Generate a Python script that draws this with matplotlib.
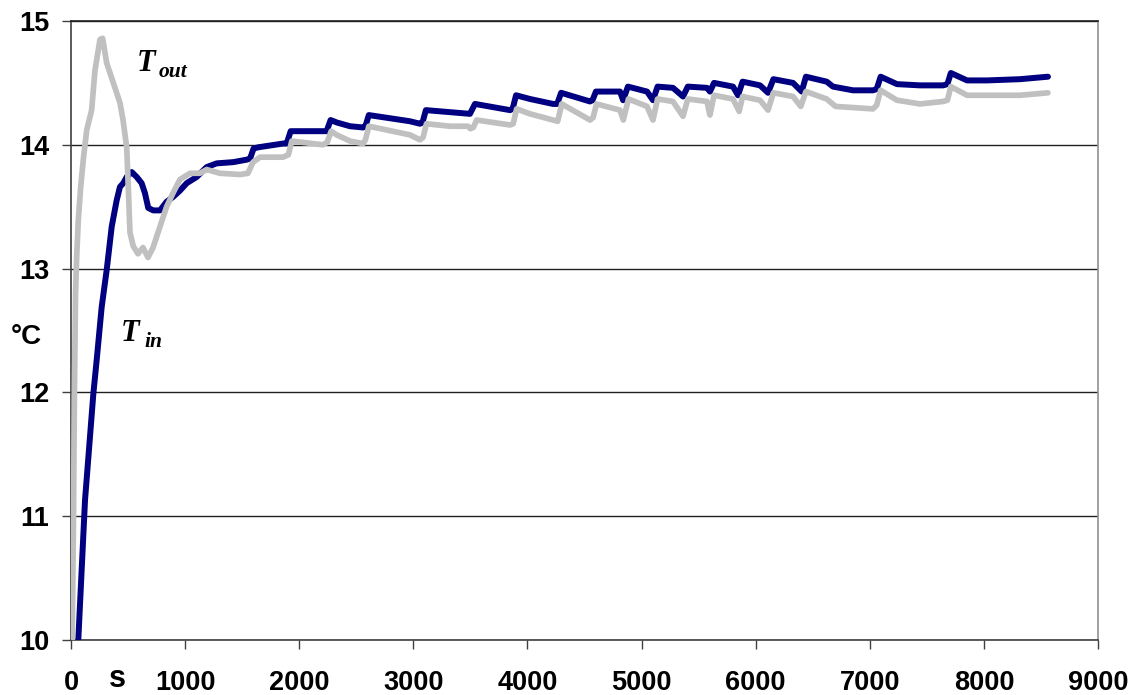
import numpy as np
import matplotlib
matplotlib.use("Agg")
import matplotlib.pyplot as plt

# time axis (s) and temperatures (degC) for the outlet and inlet sensors
t_out_s = [10, 22, 30, 40, 50, 64, 85, 110, 138, 181, 210, 254, 277, 313, 371, 429,
           456, 488, 502, 517, 546, 587, 631, 675, 719, 780, 838, 894, 955, 1043,
           1130, 1189, 1306, 1481, 1551, 1595, 1657, 1858, 1905, 1935, 2208, 2245,
           2280, 2328, 2445, 2559, 2580, 2610, 2971, 3058, 3085, 3115, 3321, 3480,
           3500, 3525, 3555, 3847, 3875, 3905, 4022, 4224, 4265, 4300, 4548, 4575,
           4605, 4811, 4840, 4885, 5048, 5100, 5140, 5275, 5363, 5405, 5573, 5599,
           5635, 5801, 5855, 5885, 6038, 6108, 6155, 6327, 6395, 6440, 6622, 6700,
           7028, 7060, 7095, 7238, 7440, 7642, 7680, 7710, 7852, 8316, 8561]
t_out = [9.95, 11.0, 12.0, 12.8, 13.1, 13.39, 13.66, 13.9, 14.12, 14.28, 14.6, 14.85,
         14.86, 14.66, 14.5, 14.34, 14.2, 13.98, 13.66, 13.29, 13.18, 13.12, 13.17,
         13.09, 13.17, 13.34, 13.5, 13.61, 13.72, 13.77, 13.77, 13.80, 13.77, 13.76,
         13.77, 13.86, 13.90, 13.90, 13.92, 14.03, 14.0, 14.02, 14.11, 14.08, 14.03,
         14.01, 14.04, 14.15, 14.08, 14.04, 14.06, 14.17, 14.15, 14.15, 14.13, 14.14,
         14.20, 14.16, 14.17, 14.29, 14.25, 14.2, 14.19, 14.33, 14.2, 14.22, 14.33,
         14.28, 14.2, 14.37, 14.31, 14.2, 14.37, 14.35, 14.23, 14.37, 14.35, 14.24,
         14.40, 14.37, 14.27, 14.39, 14.36, 14.28, 14.42, 14.39, 14.31, 14.43, 14.37,
         14.31, 14.29, 14.32, 14.44, 14.36, 14.33, 14.35, 14.36, 14.47, 14.40, 14.40,
         14.42]

t_in_s = [60, 64, 123, 196, 225, 269, 313, 357, 400, 429, 458, 488, 532, 576, 619,
          648, 677, 721, 780, 838, 896, 955, 1014, 1101, 1189, 1277, 1422, 1540,
          1570, 1600, 1642, 1858, 1890, 1925, 2208, 2240, 2275, 2330, 2445, 2559,
          2580, 2610, 2971, 3058, 3080, 3110, 3496, 3540, 3847, 3870, 3900, 4022,
          4224, 4260, 4295, 4548, 4570, 4600, 4811, 4838, 4880, 5048, 5100, 5140,
          5275, 5363, 5405, 5573, 5599, 5635, 5801, 5845, 5885, 6038, 6108, 6155,
          6327, 6403, 6440, 6622, 6677, 6853, 7028, 7060, 7095, 7238, 7440, 7642,
          7680, 7710, 7852, 8027, 8316, 8561]
t_in = [9.95, 10.0, 11.13, 11.99, 12.26, 12.69, 12.99, 13.34, 13.55, 13.66, 13.69,
        13.74, 13.78, 13.74, 13.69, 13.61, 13.49, 13.47, 13.47, 13.54, 13.58, 13.63,
        13.69, 13.74, 13.82, 13.85, 13.86, 13.88, 13.89, 13.97, 13.98, 14.01, 14.01,
        14.11, 14.11, 14.11, 14.20, 14.18, 14.15, 14.14, 14.15, 14.24, 14.19, 14.17,
        14.18, 14.28, 14.25, 14.33, 14.28, 14.29, 14.40, 14.37, 14.33, 14.33, 14.42,
        14.35, 14.36, 14.43, 14.43, 14.36, 14.47, 14.43, 14.36, 14.47, 14.46, 14.39,
        14.47, 14.46, 14.43, 14.50, 14.47, 14.40, 14.51, 14.48, 14.42, 14.53, 14.50,
        14.43, 14.55, 14.51, 14.47, 14.44, 14.44, 14.45, 14.55, 14.49, 14.48, 14.48,
        14.49, 14.58, 14.52, 14.52, 14.53, 14.55]

x_ticks = list(range(0, 9001, 1000))
y_ticks = [10, 11, 12, 13, 14, 15]

fig = plt.figure(figsize=(11.34, 6.95), dpi=100)
ax = fig.add_axes([0.0626, 0.0791, 0.9057, 0.8907])

ax.plot(t_in_s, t_in, color='#000080', lw=4.3, solid_capstyle='round',
        solid_joinstyle='round', zorder=3)
ax.plot(t_out_s, t_out, color='#c0c0c0', lw=4.1, solid_capstyle='round',
        solid_joinstyle='round', zorder=4)

ax.set_xlim(0, 9000)
ax.set_ylim(10, 15)
ax.set_xticks(x_ticks)
ax.set_yticks(y_ticks)
ax.yaxis.grid(True, color='#202020', lw=1.0)
ax.set_axisbelow(True)

for lab in ax.get_xticklabels() + ax.get_yticklabels():
    lab.set_family('Liberation Sans')
    lab.set_fontweight('bold')
    lab.set_fontsize(19.5)
ax.tick_params(axis='y', direction='out', length=6.5, width=1, color='#404040', pad=9)
ax.tick_params(axis='x', direction='out', length=6.5, width=1, color='#404040', pad=15)

ax.spines['left'].set_color('#404040')
ax.spines['bottom'].set_color('#404040')
ax.spines['top'].set_color('#202020')
ax.spines['right'].set_color('#909090')
for sp in ax.spines.values():
    sp.set_linewidth(1.2)

# unit labels
fig.text(11 / 1134, 1 - 344 / 695, '°C', family='Liberation Sans', weight='bold',
         fontsize=20, va='baseline', ha='left')
fig.text(117 / 1134, 1 - 687 / 695, 's', family='Liberation Sans', weight='bold',
         fontsize=22, va='baseline', ha='center')

# curve names
serif = dict(family='Liberation Serif', weight='bold', style='italic')
fig.text(137 / 1134, 1 - 71 / 695, 'T', fontsize=22, va='baseline', **serif)
fig.text(159 / 1134, 1 - 77 / 695, 'out', fontsize=15.5, va='baseline', **serif)
fig.text(121 / 1134, 1 - 341.5 / 695, 'T', fontsize=22, va='baseline', **serif)
fig.text(144 / 1134, 1 - 347 / 695, 'in', fontsize=15.5, va='baseline', **serif)

fig.savefig('out.png', dpi=100)
